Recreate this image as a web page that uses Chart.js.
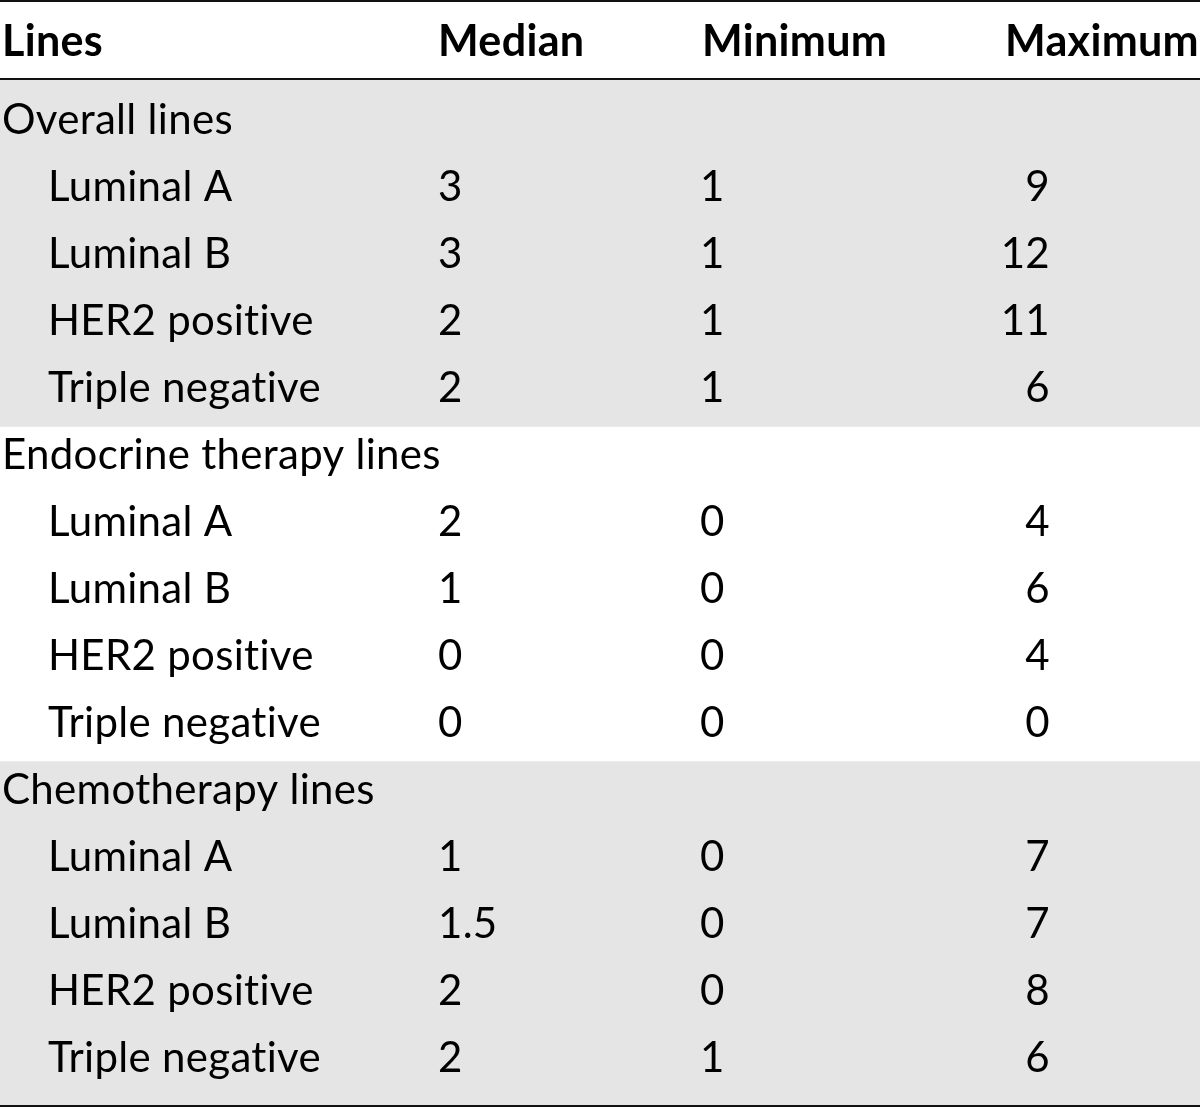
<!DOCTYPE html>
<html>
<head>
<meta charset="utf-8">
<title>Lines of therapy by subtype</title>
<script src="https://cdn.jsdelivr.net/npm/chart.js@4/dist/chart.umd.min.js"></script>
<style>
  html, body { margin: 0; padding: 0; background: #fff; }
  canvas { display: block; }
</style>
</head>
<body>
<canvas id="tableChart" width="1200" height="1108"></canvas>
<script>
const columns = ["Lines", "Median", "Minimum", "Maximum"];
const groups = ["Overall lines", "Endocrine therapy lines", "Chemotherapy lines"];
const subtypes = ["Luminal A", "Luminal B", "HER2 positive", "Triple negative"];
const shadedGroups = [true, false, true];

const overallMedian = [3, 3, 2, 2];
const overallMin = [1, 1, 1, 1];
const overallMax = [9, 12, 11, 6];

const endocrineMedian = [2, 1, 0, 0];
const endocrineMin = [0, 0, 0, 0];
const endocrineMax = [4, 6, 4, 0];

const chemoMedian = [1, 1.5, 2, 2];
const chemoMin = [0, 0, 0, 1];
const chemoMax = [7, 7, 8, 6];

const groupValues = [
  [overallMedian, overallMin, overallMax],
  [endocrineMedian, endocrineMin, endocrineMax],
  [chemoMedian, chemoMin, chemoMax]
];

// flatten groups into table rows
const rows = [];
groups.forEach((group, g) => {
  rows.push({ label: group, header: true, shaded: shadedGroups[g] });
  subtypes.forEach((name, i) => {
    rows.push({
      label: name,
      header: false,
      shaded: shadedGroups[g],
      values: groupValues[g].map(list => list[i])
    });
  });
});

const SHADE = "#e5e5e5";
const FONT = "Lato";

// a tiny letter spacing keeps the canvas from using "ti" ligatures
function setFont(ctx, weight, size) {
  ctx.font = `${weight} ${size}px ${FONT}`;
  ctx.letterSpacing = "0.3px";
}

function fitSize(ctx, text, weight, width) {
  setFont(ctx, weight, 100);
  return (100 * width) / ctx.measureText(text).width;
}

const tablePlugin = {
  id: "tableText",
  beforeDatasetsDraw(chart) {
    const { ctx, chartArea } = chart;
    ctx.save();
    ctx.fillStyle = SHADE;
    if (rows[0].shaded) ctx.fillRect(0, chartArea.top - 12, chart.width, 12);
    if (rows[rows.length - 1].shaded) ctx.fillRect(0, chartArea.bottom, chart.width, 8);
    ctx.restore();
  },
  afterDatasetsDraw(chart) {
    const { ctx, chartArea } = chart;
    const y = chart.scales.y;
    const w = chart.width;

    ctx.save();
    const bodySize = fitSize(ctx, "Endocrine therapy lines", "normal", 435);
    const headSize = fitSize(ctx, "Minimum", "bold", 184);

    const colLeft = [2, 438, 702, 1005];
    const valueX = [438, 700, 1050];
    const valueAlign = ["left", "left", "right"];

    ctx.fillStyle = "#000";
    ctx.textBaseline = "alphabetic";

    // header
    setFont(ctx, "bold", headSize);
    ctx.textAlign = "left";
    columns.forEach((c, i) => ctx.fillText(c, colLeft[i], chartArea.top - 35));

    // body rows
    setFont(ctx, "normal", bodySize);
    rows.forEach((row, i) => {
      const base = y.getPixelForValue(i) + 9;
      ctx.textAlign = "left";
      ctx.fillText(row.label, row.header ? 2 : 48, base);
      if (!row.header) {
        row.values.forEach((v, k) => {
          ctx.textAlign = valueAlign[k];
          ctx.fillText(String(v), valueX[k], base);
        });
      }
    });

    // rules
    ctx.fillStyle = "#111";
    ctx.fillRect(0, 0, w, 2);
    ctx.fillRect(0, chartArea.top - 13, w, 2);
    ctx.fillRect(0, chartArea.bottom + 8, w, 2);
    ctx.restore();
  }
};

new Chart(document.getElementById("tableChart"), {
  type: "bar",
  data: {
    labels: rows.map(r => r.label),
    datasets: [
      {
        label: "shade",
        data: rows.map(r => (r.shaded ? [0, 1] : null)),
        backgroundColor: SHADE,
        borderWidth: 0,
        barPercentage: 1,
        categoryPercentage: 1
      }
    ]
  },
  options: {
    indexAxis: "y",
    responsive: false,
    animation: false,
    layout: { padding: { top: 91, bottom: 11, left: 0, right: 0 } },
    plugins: {
      legend: { display: false },
      tooltip: { enabled: false }
    },
    scales: {
      x: { type: "linear", min: 0, max: 1, display: false },
      y: { type: "category", display: false, offset: true }
    }
  },
  plugins: [tablePlugin]
});
</script>
</body>
</html>
